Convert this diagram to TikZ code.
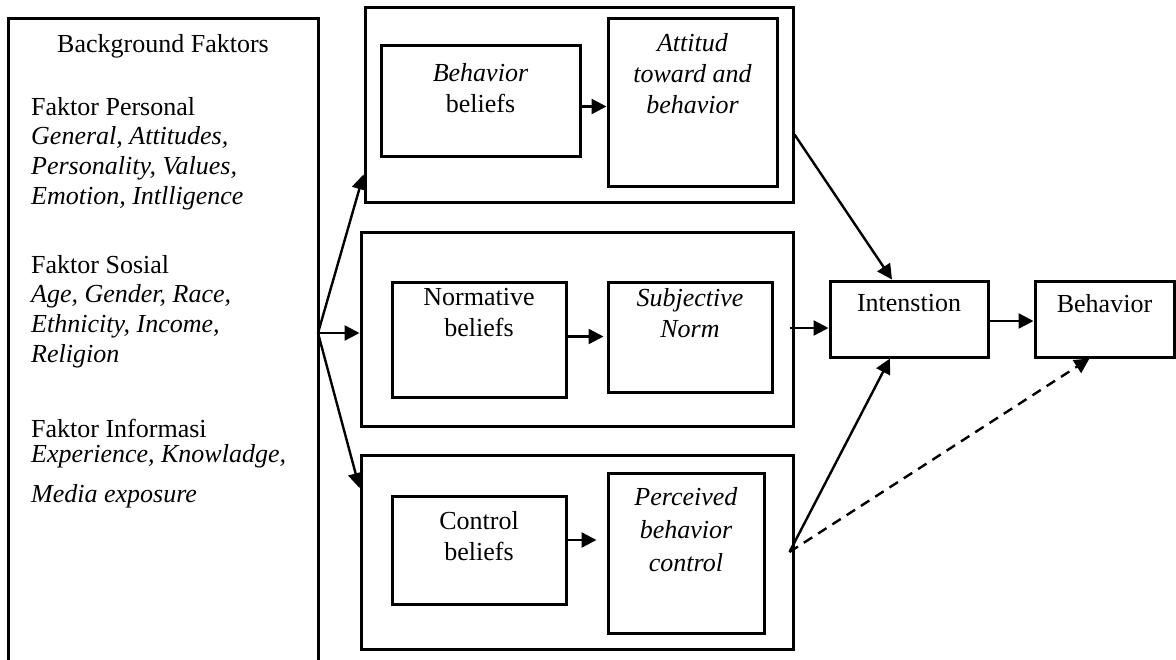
\documentclass[tikz,border=0pt]{standalone}
\usepackage{fontspec}
\setmainfont{Liberation Serif}
\usetikzlibrary{arrows.meta,positioning}

\begin{document}
\begin{tikzpicture}[x=1pt,y=-1pt,
    box/.style={draw,line width=3pt,inner sep=0pt},
    txt/.style={inner sep=0pt,align=center,font=\fontsize{26}{31}\selectfont},
    lefttxt/.style={inner sep=0pt,align=left,anchor=north west,font=\fontsize{26}{29.6}\selectfont},
    arr/.style={line width=2.4pt,-{Triangle[length=15pt,width=15pt]}}]
  \useasboundingbox (0,0) rectangle (1176,659);
  % background factors
  \node[box,draw=none,outer sep=0pt,minimum width=310pt,minimum height=652pt] (bg) at (163,344) {};
  \draw[line width=3pt] (bg.south west) -- (bg.north west) -- (bg.north east) -- (bg.south east);
  \node[txt,anchor=base] (bgtitle) at (163,52) {Background Faktors};
  \node[lefttxt] (personal) at (31,97) {Faktor Personal\\\textit{General, Attitudes,}\\\textit{Personality, Values,}\\\textit{Emotion, Intlligence}};
  \node[lefttxt] (sosial) at (31,255) {Faktor Sosial\\\textit{Age, Gender, Race,}\\\textit{Ethnicity, Income,}\\\textit{Religion}};
  \node[lefttxt] (informasi) at (31,419) {Faktor Informasi\\[-5pt]\textit{Experience, Knowladge,}\\[11pt]\textit{Media exposure}};
  % groups
  \node[box,minimum width=428pt,minimum height=195pt] (grpA) at (579,104.5) {};
  \node[box,minimum width=432pt,minimum height=194pt] (grpB) at (577,329) {};
  \node[box,minimum width=432pt,minimum height=194pt] (grpC) at (577,552) {};
  \node[box,minimum width=199pt,minimum height=111pt] (bb) at (480.5,100.5) {};
  \node[box,minimum width=169pt,minimum height=168pt] (att) at (692.5,102) {};
  \node[box,minimum width=174pt,minimum height=115pt] (nb) at (479,339.5) {};
  \node[box,minimum width=164pt,minimum height=110pt] (sn) at (690,337) {};
  \node[box,minimum width=174pt,minimum height=108pt] (cb) at (479,550) {};
  \node[box,minimum width=156pt,minimum height=160pt] (pbc) at (686,553) {};
  \node[box,minimum width=158pt,minimum height=76pt] (int) at (909,319) {};
  \node[box,minimum width=139pt,minimum height=76pt] (beh) at (1104.5,319) {};
  % texts
  \node[txt,below=20pt of bb.north] (bbtext) {\textit{Behavior}\\beliefs};
  \node[txt,below=17pt of att.north] (atttext) {\textit{Attitud}\\\textit{toward and}\\\textit{behavior}};
  \node[txt,below=8pt of nb.north] (nbtext) {Normative\\beliefs};
  \node[txt,below=8pt of sn.north] (sntext) {\textit{Subjective}\\\textit{Norm}};
  \node[txt,below=17pt of cb.north] (cbtext) {Control\\beliefs};
  \node[txt,below=16pt of pbc.north,font=\fontsize{26}{33}\selectfont] (pbctext) {\textit{Perceived}\\\textit{behavior}\\\textit{control}};
  \node[txt,below=15pt of int.north] (inttext) {Intenstion};
  \node[txt,below=15pt of beh.north] (behtext) {Behavior};
  % arrows
  \draw[arr] ([yshift=-6pt]bb.east) -- ([yshift=-6pt]bb.east -| att.west);
  \draw[arr,shorten >=3pt] ([yshift=3pt]nb.east) -- ([yshift=3pt]nb.east -| sn.west);
  \draw[arr,shorten >=10pt] ([yshift=10pt]cb.east) -- ([yshift=10pt]cb.east -| pbc.west);
  \coordinate (fan) at ([yshift=11pt]bg.east);
  \draw[arr] (fan) -- ([yshift=-70pt]grpA.west);
  \draw[arr] (fan) -- (fan -| grpB.west);
  \draw[arr] (fan) -- ([yshift=64pt]grpC.west);
  \draw[arr] ([yshift=-30pt]grpA.east) -- ([xshift=-17pt]int.north);
  \draw[arr,shorten <=-5pt] ([yshift=-9pt]int.west -| grpB.east) -- ([yshift=-9pt]int.west);
  \draw[arr] ([xshift=-5pt]grpC.east) -- ([xshift=-19pt]int.south);
  \draw[arr,dash pattern=on 10pt off 7pt] ([xshift=-5pt]grpC.east) -- ([xshift=-15pt]beh.south);
  \draw[arr] ([yshift=-2pt]int.east) -- ([yshift=-2pt]int.east -| beh.west);
\end{tikzpicture}
\end{document}
